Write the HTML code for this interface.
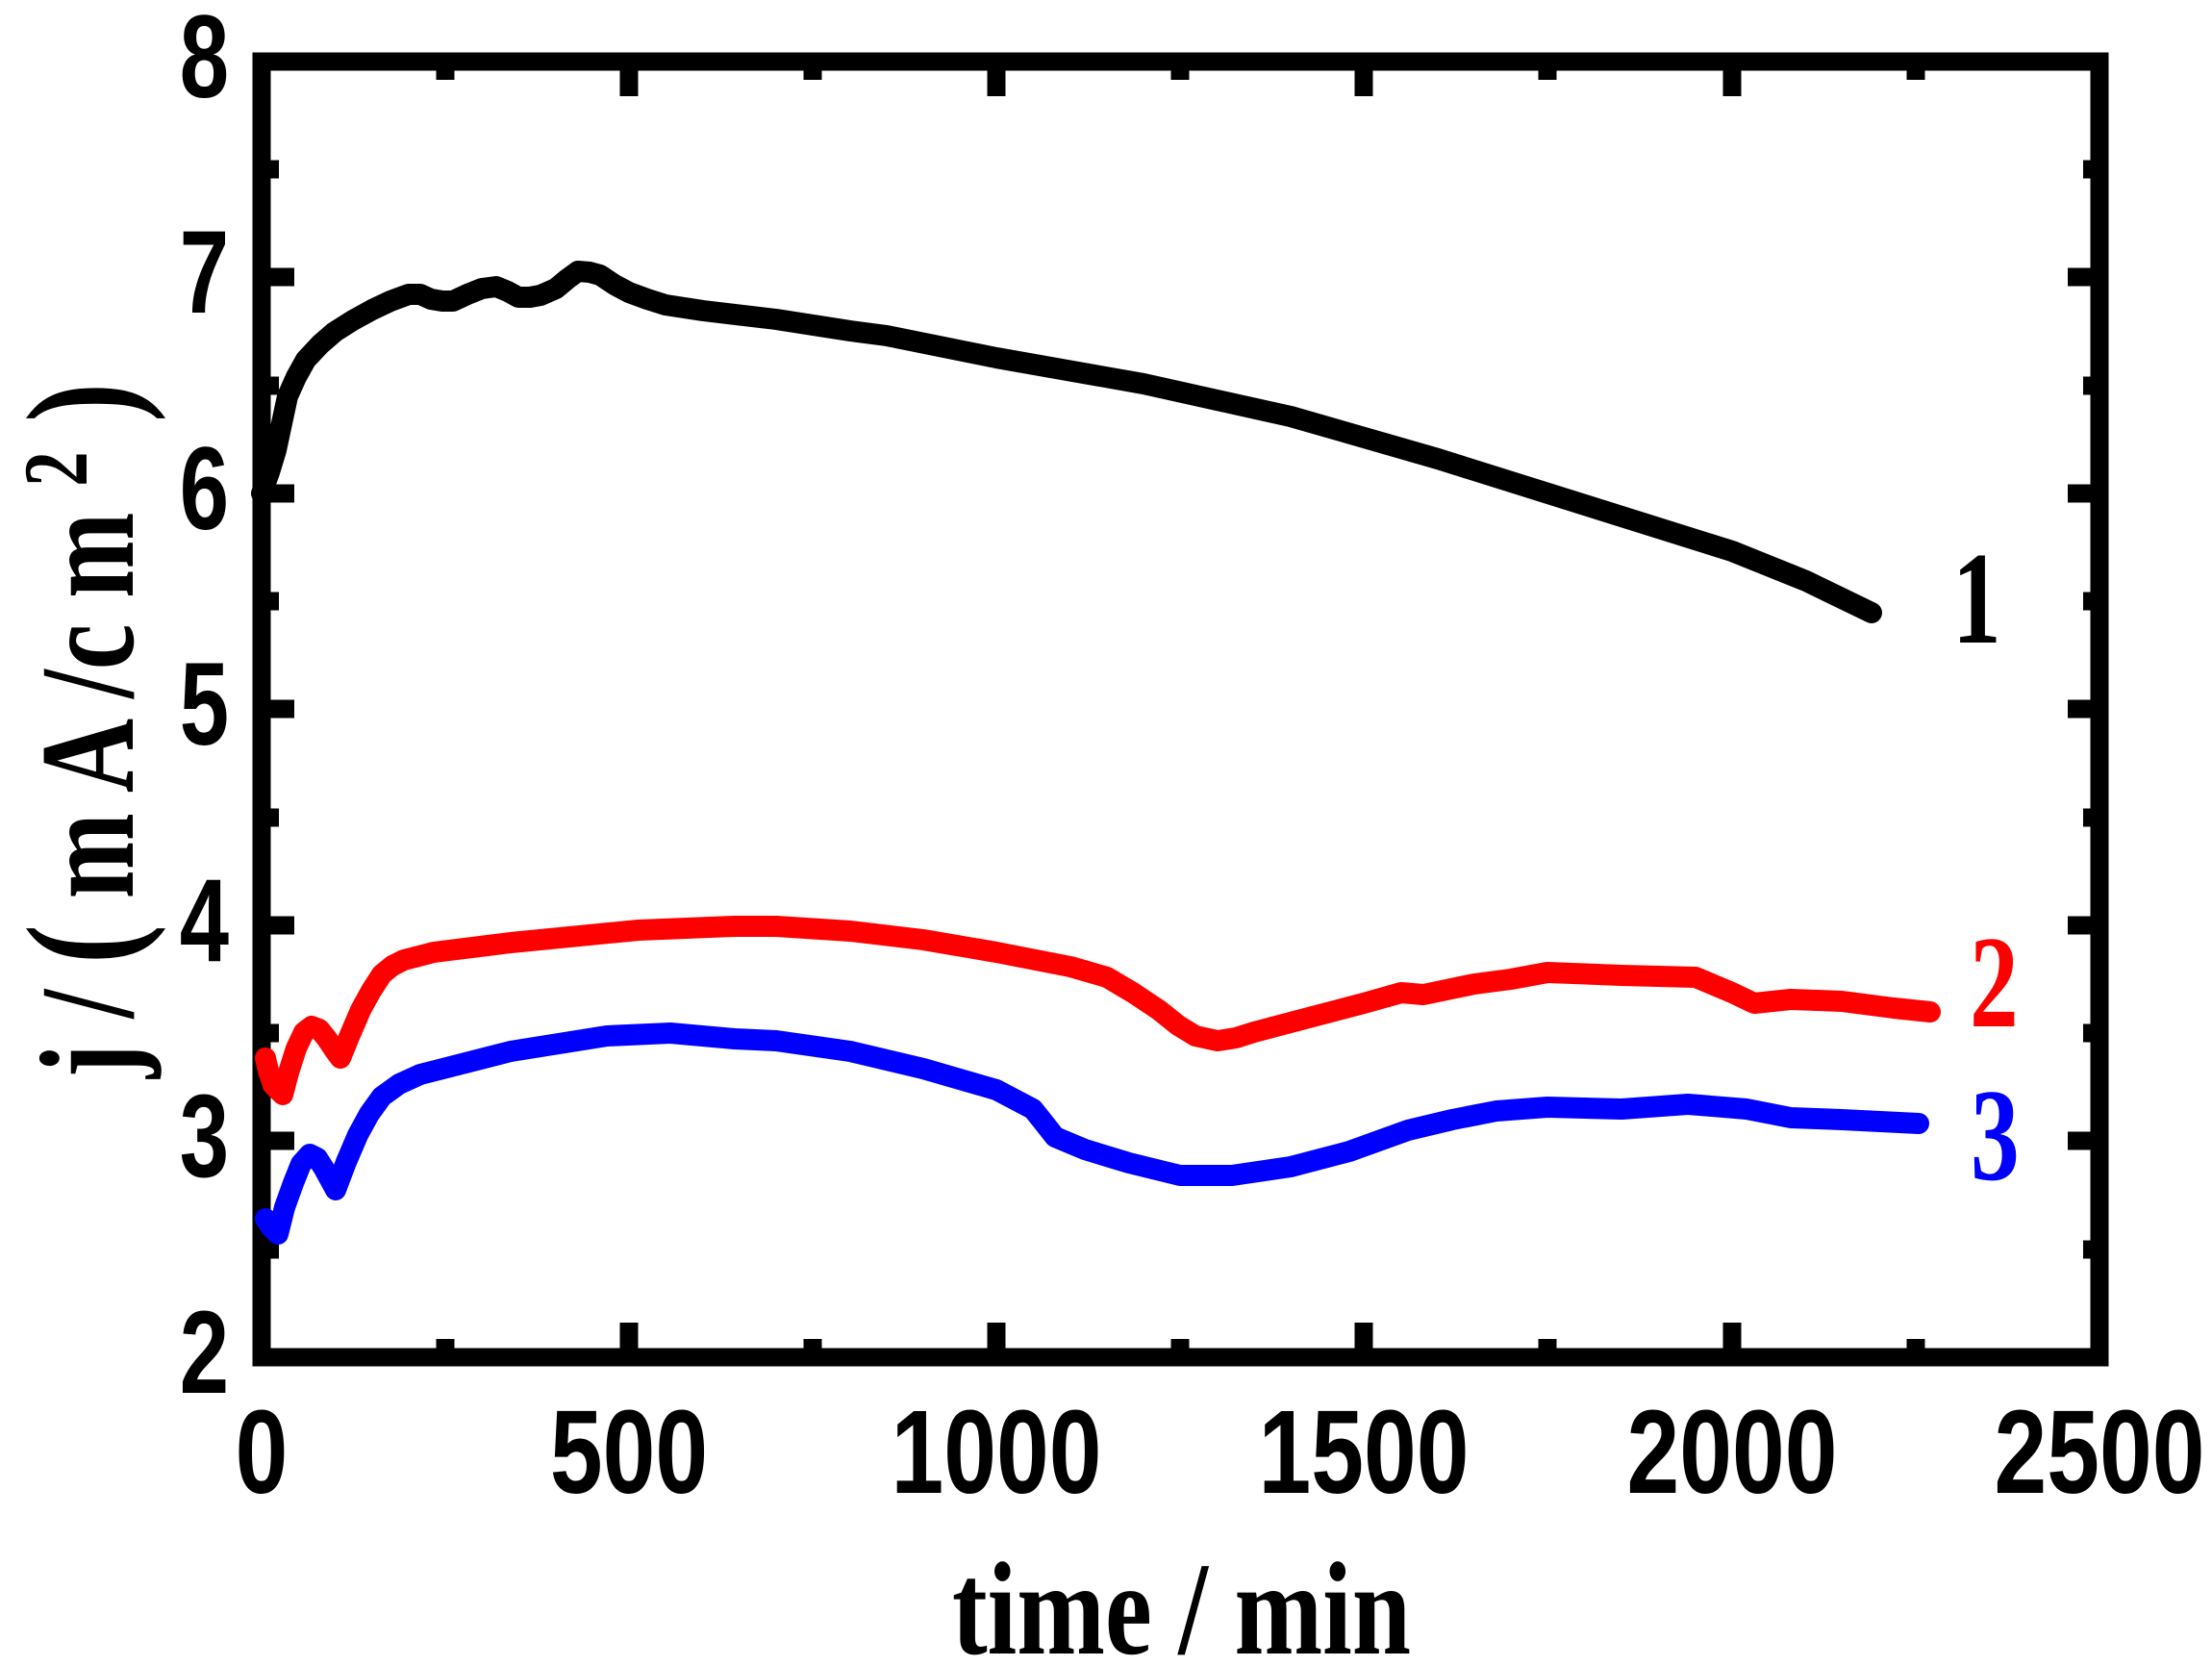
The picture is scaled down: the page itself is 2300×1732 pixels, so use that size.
<!DOCTYPE html>
<html><head><meta charset="utf-8"><style>html,body{margin:0;padding:0;background:#fff}svg{display:block}</style></head>
<body>
<svg width="2300" height="1732" viewBox="0 0 2300 1732" xmlns="http://www.w3.org/2000/svg">
<rect width="2300" height="1732" fill="#fff"/>
<g stroke="#000" stroke-width="19" fill="none">
<path d="M654,73v27M1036,73v27M1418,73v27M1801,73v27
M654,1402v-27M1036,1402v-27M1418,1402v-27M1801,1402v-27
M463,73v10M845,73v10M1227,73v10M1609,73v10M1992,73v10
M463,1402v-10M845,1402v-10M1227,1402v-10M1609,1402v-10M1992,1402v-10"/>
<path d="M281,288h25M281,513h25M281,737h25M281,962h25M281,1186h25
M2175,288h-25M2175,513h-25M2175,737h-25M2175,962h-25M2175,1186h-25
M281,176h9M281,401h9M281,625h9M281,850h9M281,1074h9M281,1299h9
M2175,176h-9M2175,401h-9M2175,625h-9M2175,850h-9M2175,1074h-9M2175,1299h-9"/>
</g>
<rect x="272" y="64" width="1911" height="1347" fill="none" stroke="#000" stroke-width="19"/>
<g fill="none" stroke-width="22" stroke-linejoin="round" stroke-linecap="round">
<polyline stroke="#000" points="
272,513 280,491 287,468 293,440 299,412 308,392 318,374 333,358 348,345 367,333 387,322 406,313 425,306 437,306 448,311 460,313 471,313 486,306 501,300 516,298 528,303 539,309 551,309 562,307 578,300 590,290 601,282 613,283 624,286 639,296 654,304 673,311 692,317 731,323 807,332 884,344 922,349 1036,372 1189,399 1342,433 1495,477 1648,525 1801,573 1878,604 1946,637"/>
<polyline stroke="#f00" points="
276,1100 279,1113 284,1128 294,1138 300,1115 308,1090 316,1073 324,1067 332,1070 340,1080 348,1092 354,1100 363,1078 375,1050 386,1030 397,1013 408,1004 420,998 451,990 531,980 664,967 764,963 807,963 884,968 960,977 1036,990 1113,1005 1151,1016 1178,1032 1205,1050 1225,1066 1243,1077 1266,1082 1285,1079 1304,1073 1357,1059 1418,1043 1457,1032 1480,1034 1533,1023 1571,1018 1609,1011 1686,1014 1763,1016 1801,1032 1824,1043 1862,1039 1915,1041 1969,1048 2007,1052"/>
<polyline stroke="#00f" points="
276,1267 282,1276 289,1283 296,1255 305,1230 313,1210 322,1200 330,1204 337,1215 349,1237 360,1208 372,1180 384,1158 397,1140 415,1127 437,1117 531,1093 631,1077 697,1074 764,1080 807,1082 884,1093 960,1111 1036,1133 1074,1153 1086,1168 1097,1182 1128,1195 1174,1209 1227,1222 1281,1222 1342,1213 1403,1197 1464,1175 1510,1164 1556,1155 1609,1151 1686,1153 1755,1148 1816,1153 1862,1162 1915,1164 1995,1168"/>
</g>
<g font-family="Liberation Sans, Arial, sans-serif" font-weight="bold" font-size="123" fill="#000">
<g text-anchor="end">
<text transform="translate(238,101) scale(0.75,1)">8</text>
<text transform="translate(238,325) scale(0.75,1)">7</text>
<text transform="translate(238,550) scale(0.75,1)">6</text>
<text transform="translate(238,774) scale(0.75,1)">5</text>
<text transform="translate(238,999) scale(0.75,1)">4</text>
<text transform="translate(238,1223) scale(0.75,1)">3</text>
<text transform="translate(238,1448) scale(0.75,1)">2</text>
</g>
<g text-anchor="middle">
<text transform="translate(272,1552) scale(0.8,1)">0</text>
<text transform="translate(654,1552) scale(0.8,1)">500</text>
<text transform="translate(1036,1552) scale(0.8,1)">1000</text>
<text transform="translate(1418,1552) scale(0.8,1)">1500</text>
<text transform="translate(1801,1552) scale(0.8,1)">2000</text>
<text transform="translate(2183,1552) scale(0.8,1)">2500</text>
</g>
</g>
<g font-family="Liberation Serif, Times New Roman, serif" font-weight="bold">
<text x="990" y="1719" font-size="138" textLength="477" lengthAdjust="spacingAndGlyphs">time / min</text>
<text transform="translate(138,1121) rotate(-90)" font-size="140" textLength="723" lengthAdjust="spacingAndGlyphs">j / <tspan font-size="160">(</tspan> m A /c m <tspan font-size="95" dy="-48">2</tspan><tspan dy="48" font-size="160"> )</tspan></text>
<g font-size="137">
<text transform="translate(2030,668) scale(0.74,1)" fill="#000">1</text>
<text transform="translate(2048,1067) scale(0.74,1)" fill="#f00">2</text>
<text transform="translate(2049,1226) scale(0.74,1)" fill="#00f">3</text>
</g>
</g>
</svg>
</body></html>
